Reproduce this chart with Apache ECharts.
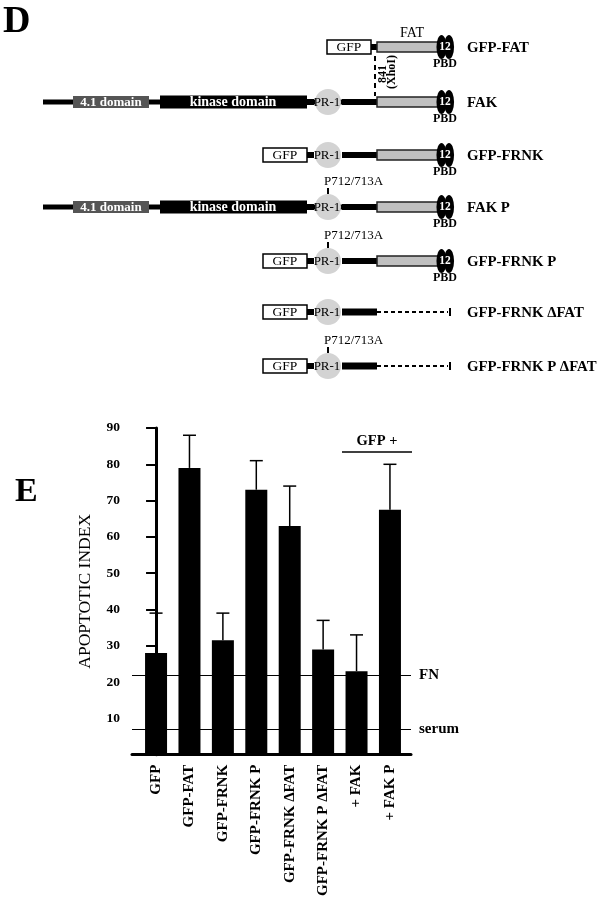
<!DOCTYPE html>
<html>
<head>
<meta charset="utf-8">
<script src="https://cdn.jsdelivr.net/npm/echarts@6/dist/echarts.min.js"></script>
<style>
html, body { margin: 0; padding: 0; background: #fff; }
#main { width: 603px; height: 899px; }
</style>
</head>
<body>
<div id="main"></div>
<script>
/******************** panel E data ********************/
var categories = ['GFP', 'GFP-FAT', 'GFP-FRNK', 'GFP-FRNK P', 'GFP-FRNK \u0394FAT', 'GFP-FRNK P \u0394FAT', '+ FAK', '+ FAK P'];
var apoptoticIndex = [28, 79, 31.5, 73, 63, 29, 23, 67.5];
var errorTop = [39, 88, 39, 81, 74, 37, 33, 80];
var yTicks = [10, 20, 30, 40, 50, 60, 70, 80, 90];
var refLines = [{ name: 'FN', value: 22 }, { name: 'serum', value: 7 }];

/******************** panel D constructs ********************/
var constructNames = ['GFP-FAT', 'FAK', 'GFP-FRNK', 'FAK P', 'GFP-FRNK P', 'GFP-FRNK \u0394FAT', 'GFP-FRNK P \u0394FAT'];
var constructKinds = ['fat', 'fak', 'frnk', 'fak', 'frnk', 'dfat', 'dfat'];
var pointMutant = [false, false, false, true, true, false, true];

var SERIF = '"Liberation Serif", "DejaVu Serif", serif';
var rowY = [47, 102, 155, 207, 261, 312, 366];

var g = [];

function rect(x, y, w, h, fill, stroke, lw) {
    g.push({
        type: 'rect',
        shape: { x: x, y: y, width: w, height: h },
        style: { fill: fill, stroke: stroke || null, lineWidth: lw || 0 }
    });
}
function seg(x1, y1, x2, y2, lw, dash) {
    g.push({
        type: 'line',
        shape: { x1: x1, y1: y1, x2: x2, y2: y2 },
        style: { stroke: '#000', lineWidth: lw, lineDash: dash || null }
    });
}
function txt(x, y, s, size, opt) {
    opt = opt || {};
    g.push({
        type: 'text',
        x: x, y: y,
        rotation: opt.rotation || 0,
        style: {
            text: s,
            fill: opt.color || '#000',
            font: (opt.weight || 'bold') + ' ' + size + 'px ' + SERIF,
            textAlign: opt.align || 'left',
            textVerticalAlign: 'middle'
        }
    });
}

// pieces shared by the constructs
function gfpBox(x, y) {
    rect(x, y - 7, 44, 14, '#fff', '#000', 1.5);
    txt(x + 22, y + 0.5, 'GFP', 13.5, { align: 'center', weight: 'normal' });
}
function pr1(y) {
    g.push({ type: 'circle', shape: { cx: 328, cy: y, r: 13 }, style: { fill: '#d3d3d3' } });
}
function pr1Text(y) {
    txt(327, y + 0.5, 'PR-1', 13, { align: 'center', weight: 'normal' });
}
function fatTail(y) {
    rect(377, y - 5, 61, 10, '#c0c0c0', '#222', 1.5);
    g.push({ type: 'circle', x: 441.5, y: y, scaleX: 0.42, shape: { cx: 0, cy: 0, r: 12 }, style: { fill: '#000' } });
    g.push({ type: 'circle', x: 449, y: y, scaleX: 0.42, shape: { cx: 0, cy: 0, r: 12 }, style: { fill: '#000' } });
    txt(445, y + 0.5, '12', 11.5, { align: 'center', color: '#fff' });
    txt(445, y + 17, 'PBD', 12, { align: 'center' });
}

constructNames.forEach(function (name, i) {
    var y = rowY[i];
    var kind = constructKinds[i];
    if (kind === 'fat') {
        gfpBox(327, y);
        rect(371, y - 3, 7, 6, '#000');
        fatTail(y);
        txt(412, y - 14, 'FAT', 14, { align: 'center', weight: 'normal' });
        seg(375, y + 9, 375, y + 49, 2, [5, 4]);
        txt(382.5, y + 27, '841', 12, { align: 'center', rotation: Math.PI / 2 });
        txt(391.5, y + 25, '(XhoI)', 12, { align: 'center', rotation: Math.PI / 2 });
    } else if (kind === 'fak') {
        rect(43, y - 2.5, 334, 5, '#000');
        rect(73, y - 6, 76, 12, '#555');
        txt(111, y + 0.5, '4.1 domain', 13, { align: 'center', color: '#fff' });
        rect(160, y - 6.5, 147, 13, '#000');
        txt(233, y + 0.5, 'kinase domain', 14, { align: 'center', color: '#fff' });
        pr1(y);
        rect(307, y - 3, 7, 6, '#000');
        rect(342, y - 3, 35, 6, '#000');
        pr1Text(y);
        fatTail(y);
    } else {
        gfpBox(263, y);
        rect(307, y - 3, 7, 6, '#000');
        pr1(y);
        if (kind === 'frnk') {
            rect(342, y - 3, 35, 6, '#000');
            fatTail(y);
        } else {
            rect(342, y - 3.5, 35, 7, '#000');
            seg(377, y, 448, y, 2, [4, 3]);
            seg(450, y - 4, 450, y + 4, 2);
        }
        pr1Text(y);
    }
    if (pointMutant[i]) {
        seg(328, y - 19, 328, y - 13, 2);
        txt(324, y - 25, 'P712/713A', 13, { weight: 'normal' });
    }
    txt(467, y + 1, name, 14.8, {});
});

// panel letters and group annotation for E
txt(3, 22, 'D', 38, {});
txt(15, 492, 'E', 34, {});
txt(377, 441, 'GFP +', 14.5, { align: 'center' });
seg(342, 452, 412, 452, 1.5);

/******************** chart ********************/
function renderErrorBar(params, api) {
    var i = api.value(0);
    var base = api.coord([i, api.value(1)]);
    var top = api.coord([i, api.value(2)]);
    return {
        type: 'group',
        children: [
            { type: 'line', shape: { x1: base[0], y1: base[1], x2: top[0], y2: top[1] }, style: { stroke: '#000', lineWidth: 1.5 } },
            { type: 'line', shape: { x1: top[0] - 6.5, y1: top[1], x2: top[0] + 6.5, y2: top[1] }, style: { stroke: '#000', lineWidth: 1.5 } }
        ]
    };
}

var option = {
    animation: false,
    backgroundColor: '#fff',
    graphic: g,
    grid: { left: 132, right: 192, top: 428, bottom: 144 },
    xAxis: {
        type: 'value',
        min: -0.72,
        max: 7.63,
        splitLine: { show: false },
        axisLine: { show: true, onZero: false, lineStyle: { color: '#000', width: 3 } },
        axisTick: { show: false },
        axisLabel: {
            customValues: categories.map(function (c, i) { return i; }),
            rotate: 90,
            margin: 10,
            color: '#000',
            fontFamily: SERIF,
            fontWeight: 'bold',
            fontSize: 15,
            formatter: function (v) { return categories[Math.round(v)]; }
        }
    },
    yAxis: {
        type: 'value',
        min: 0,
        max: 90,
        interval: 10,
        splitLine: { show: false },
        axisLine: { show: true, lineStyle: { color: '#000', width: 3 } },
        axisTick: { customValues: yTicks, length: 10, lineStyle: { color: '#000', width: 2 } },
        axisLabel: {
            customValues: yTicks,
            margin: 12,
            color: '#000',
            fontFamily: SERIF,
            fontWeight: 'bold',
            fontSize: 13.5
        },
        name: 'APOPTOTIC INDEX',
        nameLocation: 'middle',
        nameRotate: 90,
        nameGap: 38,
        nameTextStyle: { color: '#000', fontFamily: SERIF, fontSize: 17.5 }
    },
    series: [
        {
            type: 'bar',
            barWidth: 22,
            itemStyle: { color: '#000' },
            data: apoptoticIndex.map(function (v, i) { return [i, v]; }),
            markLine: {
                silent: true,
                symbol: 'none',
                lineStyle: { color: '#000', width: 1.2, type: 'solid' },
                label: {
                    position: 'end',
                    distance: 8,
                    formatter: '{b}',
                    color: '#000',
                    fontFamily: SERIF,
                    fontWeight: 'bold',
                    fontSize: 15
                },
                data: refLines.map(function (r) { return { name: r.name, yAxis: r.value }; })
            }
        },
        {
            type: 'custom',
            renderItem: renderErrorBar,
            data: apoptoticIndex.map(function (v, i) { return [i, v, errorTop[i]]; }),
            z: 1
        }
    ]
};

var chart = echarts.init(document.getElementById('main'));
chart.setOption(option);
</script>
</body>
</html>
